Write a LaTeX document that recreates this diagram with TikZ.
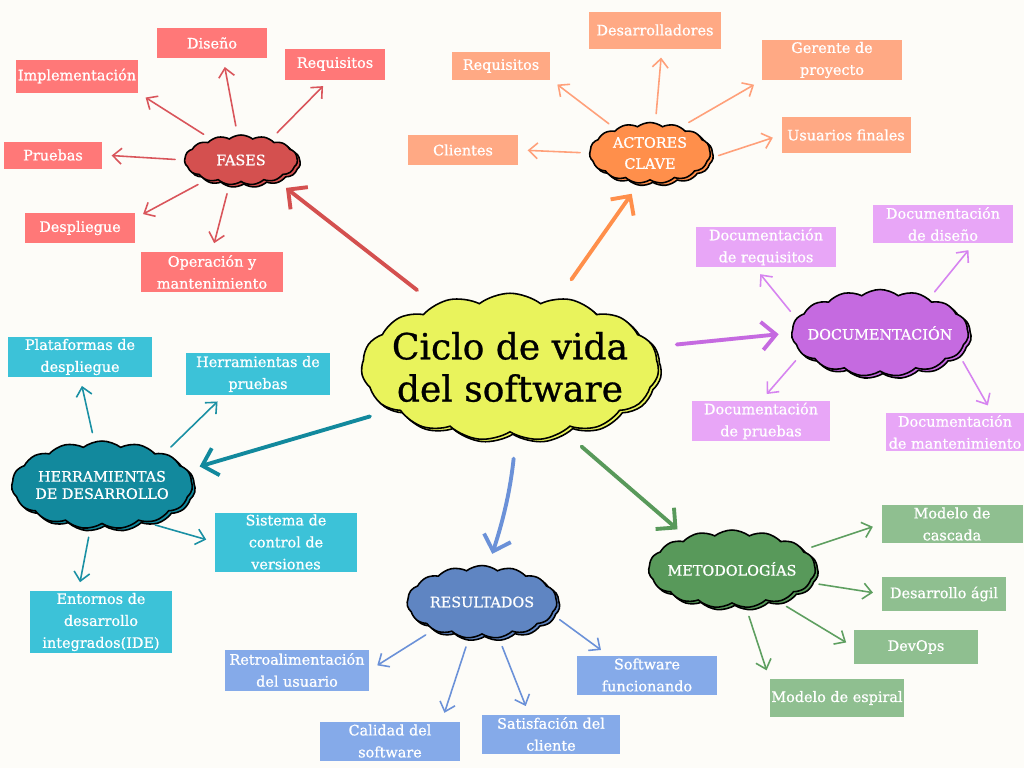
\documentclass[tikz,border=0pt]{standalone}
\usepackage{fontspec}
\setmainfont{DejaVu Serif}
\newfontfamily\mapfont{DejaVu Serif}[FakeBold=0.8]
\usepackage{tikz}
\usetikzlibrary{positioning}
\usetikzlibrary{arrows.meta}
\usetikzlibrary{shapes.symbols,shadows}
\usepackage{xcolor}

\definecolor{paper}{HTML}{FDFCF8}
\definecolor{lime}{HTML}{E9F35C}
\definecolor{fasesC}{HTML}{D4504F}
\definecolor{fasesL}{HTML}{FF7878}
\definecolor{fasesA}{HTML}{D9555B}
\definecolor{actC}{HTML}{FF8F4B}
\definecolor{actL}{HTML}{FFA984}
\definecolor{actA}{HTML}{FFA07A}
\definecolor{docC}{HTML}{C56AE0}
\definecolor{docL}{HTML}{E8A6F7}
\definecolor{docA}{HTML}{D684F0}
\definecolor{herC}{HTML}{12899D}
\definecolor{herL}{HTML}{3CC2D8}
\definecolor{herA}{HTML}{1A90A4}
\definecolor{resC}{HTML}{5F85C2}
\definecolor{resL}{HTML}{85AAE9}
\definecolor{resA}{HTML}{6B91D8}
\definecolor{metC}{HTML}{58995A}
\definecolor{metL}{HTML}{8FBF90}
\definecolor{metA}{HTML}{5E9F60}

\begin{document}
\begin{tikzpicture}[x=0.02cm,y=-0.02cm,
    topic/.style={cloud,cloud puffs=15,cloud puff arc=75,cloud ignores aspect,draw=black,line width=0.9pt,
      copy shadow={shadow xshift=1.6pt,shadow yshift=-1.4pt}},
    cloudtext/.style={text=white,align=center,font=\mapfont\fontsize{8.2}{12}\selectfont},
    leaf/.style={rectangle,text=white,align=center,inner sep=1pt,font=\mapfont\fontsize{8.2}{12.5}\selectfont},
    twig/.style={-{Straight Barb[length=5pt,width=9pt]},line width=0.9pt,line cap=round,shorten <=5pt,shorten >=5pt},
    branch/.style={-{Straight Barb[length=8pt,width=16pt]},line width=2.2pt,line cap=round,shorten <=13pt,shorten >=7pt}]
   \fill[paper] (0,0) rectangle (1024,768);

   % centro
   \node[topic,fill=lime,minimum width=5.95cm,minimum height=2.95cm,
     label={[text=black,align=center,font=\mapfont\fontsize{20.5}{24}\selectfont]center:Ciclo de vida\\del software}] (ciclo) at (510,367) {};

   % temas
   \node[topic,fill=fasesC,minimum width=2.26cm,minimum height=1cm,label={[cloudtext]center:FASES}] (fases) at (241,160) {};
   \node[topic,fill=actC,minimum width=2.42cm,minimum height=1.22cm,label={[cloudtext]center:ACTORES\\CLAVE}] (actores) at (650,153) {};
   \node[topic,fill=docC,minimum width=3.54cm,minimum height=1.74cm,label={[cloudtext]center:DOCUMENTACIÓN}] (doc) at (880,333) {};
   \node[topic,fill=herC,minimum width=3.62cm,minimum height=1.76cm,label={[cloudtext,font=\mapfont\fontsize{8.2}{9.8}\selectfont]center:HERRAMIENTAS\\DE DESARROLLO}] (herr) at (102,485) {};
   \node[topic,fill=resC,minimum width=3cm,minimum height=1.46cm,label={[cloudtext]center:RESULTADOS}] (res) at (482,602) {};
   \node[topic,fill=metC,minimum width=3.34cm,minimum height=1.56cm,label={[cloudtext]center:METODOLOGÍAS}] (met) at (732,569) {};

   % fases
   \node[leaf,fill=fasesL,minimum width=2.2cm,minimum height=0.6cm] (f_dis) at (212,43) {Diseño};
   \node[leaf,fill=fasesL,minimum width=2.02cm,minimum height=0.62cm] (f_req) at (335,64) {Requisitos};
   \node[leaf,fill=fasesL,minimum width=2.4cm,minimum height=0.66cm] (f_imp) at (77,76) {Implementación};
   \node[leaf,fill=fasesL,minimum width=1.98cm,minimum height=0.54cm] (f_pru) at (53,155) {Pruebas};
   \node[leaf,fill=fasesL,minimum width=2.2cm,minimum height=0.6cm] (f_des) at (80,228) {Despliegue};
   \node[leaf,fill=fasesL,minimum width=2.84cm,minimum height=0.8cm] (f_ope) at (212,272) {Operación y\\mantenimiento};

   % actores clave
   \node[leaf,fill=actL,minimum width=2.66cm,minimum height=0.74cm] (a_des) at (655,30) {Desarrolladores};
   \node[leaf,fill=actL,minimum width=1.96cm,minimum height=0.56cm] (a_req) at (501,66) {Requisitos};
   \node[leaf,fill=actL,minimum width=2.8cm,minimum height=0.8cm] (a_ger) at (832,60) {Gerente de\\proyecto};
   \node[leaf,fill=actL,minimum width=2.58cm,minimum height=0.72cm] (a_usu) at (846,135) {Usuarios finales};
   \node[leaf,fill=actL,minimum width=2.22cm,minimum height=0.6cm] (a_cli) at (463,150) {Clientes};

   % documentacion
   \node[leaf,fill=docL,minimum width=2.8cm,minimum height=0.78cm] (d_req) at (766,247) {Documentación\\de requisitos};
   \node[leaf,fill=docL,minimum width=2.8cm,minimum height=0.76cm] (d_dis) at (943,224) {Documentación\\de diseño};
   \node[leaf,fill=docL,minimum width=2.78cm,minimum height=0.74cm] (d_pru) at (761,421) {Documentación\\de pruebas};
   \node[leaf,fill=docL,minimum width=2.76cm,minimum height=0.72cm] (d_man) at (955,432) {Documentación\\de mantenimiento};

   % herramientas
   \node[leaf,fill=herL,minimum width=2.9cm,minimum height=0.8cm] (h_pla) at (80,357) {Plataformas de\\despliegue};
   \node[leaf,fill=herL,minimum width=2.9cm,minimum height=0.84cm] (h_pru) at (258,374) {Herramientas de\\pruebas};
   \node[leaf,fill=herL,minimum width=2.84cm,minimum height=1.18cm] (h_sis) at (286,542) {Sistema de\\control de\\versiones};
   \node[leaf,fill=herL,minimum width=2.84cm,minimum height=1.18cm] (h_ent) at (101,622) {Entornos de\\desarrollo\\integrados(IDE)};

   % resultados
   \node[leaf,fill=resL,minimum width=2.9cm,minimum height=0.82cm] (r_ret) at (297,670) {Retroalimentación\\del usuario};
   \node[leaf,fill=resL,minimum width=2.8cm,minimum height=0.78cm] (r_cal) at (390,741) {Calidad del\\software};
   \node[leaf,fill=resL,minimum width=2.78cm,minimum height=0.78cm] (r_sat) at (551,734) {Satisfación del\\cliente};
   \node[leaf,fill=resL,minimum width=2.8cm,minimum height=0.78cm] (r_sof) at (647,675) {Software\\funcionando};

   % metodologias
   \node[leaf,fill=metL,minimum width=2.82cm,minimum height=0.76cm] (m_cas) at (952,524) {Modelo de\\cascada};
   \node[leaf,fill=metL,minimum width=2.48cm,minimum height=0.68cm] (m_agi) at (944,594) {Desarrollo ágil};
   \node[leaf,fill=metL,minimum width=2.48cm,minimum height=0.68cm] (m_dev) at (916,647) {DevOps};
   \node[leaf,fill=metL,minimum width=2.66cm,minimum height=0.76cm] (m_esp) at (837,698) {Modelo de espiral};

   \path[branch]
    (ciclo.140) edge[fasesC] (fases.-30)
    (ciclo.55) edge[actC] (actores.-110)
    (ciclo.8) edge[docC] (doc.180)
    (ciclo.-160) edge[herC] (herr.10)
    (ciclo.-85) edge[resA,bend left=6] (res.80)
    (ciclo.-50) edge[metC] (met.145);
   \path[twig,fasesA]
    (fases.98) edge (f_dis.-54)
    (fases.35) edge (f_req.-110)
    (fases.145) edge (f_imp.south east)
    (fases.180) edge (f_pru.east)
    (fases.-150) edge (f_des.10)
    (fases.-115) edge (f_ope.north);
   \path[twig,actA]
    (actores.80) edge (a_des.-70)
    (actores.145) edge (a_req.-15)
    (actores.40) edge (a_ger.south west)
    (actores.-5) edge (a_usu.west)
    (actores.180) edge (a_cli.east);
   \path[twig,docA]
    (doc.170) edge (d_req.-119)
    (doc.35) edge (d_dis.-32)
    (doc.-165) edge (d_pru.north)
    (doc.-15) edge (d_man.27);
   \path[twig,herA]
    (herr.100) edge (h_pla.south)
    (herr.27) edge (h_pru.-148)
    (herr.-40) edge (h_sis.west)
    (herr.-105) edge (h_ent.126);
   \path[twig,resA]
    (res.-150) edge (r_ret.east)
    (res.-110) edge (r_cal.21)
    (res.-65) edge (r_sat.138)
    (res.-10) edge (r_sof.153);
   \path[twig,metA]
    (met.15) edge (m_cas.west)
    (met.-10) edge (m_agi.west)
    (met.-35) edge (m_dev.west)
    (met.-70) edge (m_esp.north west);
\end{tikzpicture}
\end{document}
